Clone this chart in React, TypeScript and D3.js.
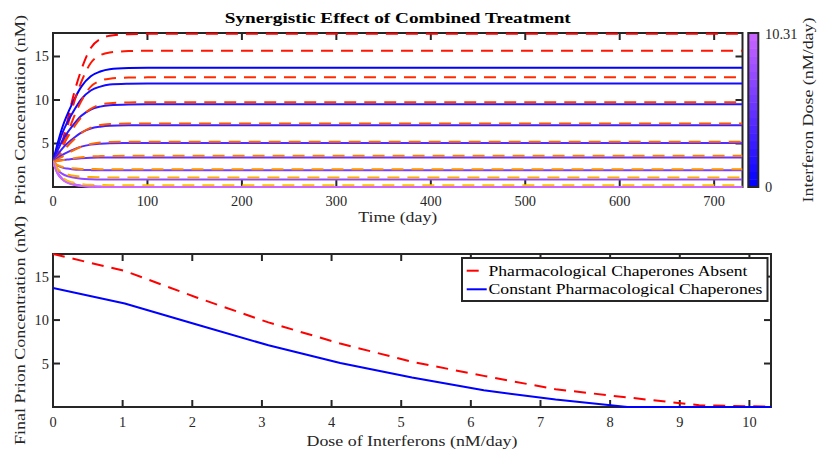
import React from "react";
import * as d3 from "d3";

// ---------------- data ----------------
const timeDays = [0, 5, 10, 15, 20, 30, 40, 50, 60, 80, 100, 730];
const doses = [0, 1.031, 2.062, 3.093, 4.124, 5.155, 6.186, 7.217, 8.248, 9.279, 10.31];
const doseMax = 10.31;

const absentSeries = [
  [2.9, 3.78, 5.25, 7.46, 9.81, 13.48, 15.98, 17.01, 17.38, 17.57, 17.6, 17.6],
  [2.9, 3.67, 4.94, 6.85, 8.89, 12.08, 14.25, 15.14, 15.46, 15.62, 15.65, 15.65],
  [2.9, 3.48, 4.45, 5.91, 7.46, 9.88, 11.53, 12.21, 12.45, 12.58, 12.6, 12.6],
  [2.9, 3.72, 4.68, 5.63, 6.52, 8.02, 8.98, 9.46, 9.63, 9.72, 9.73, 9.73],
  [2.9, 3.43, 4.04, 4.66, 5.23, 6.2, 6.82, 7.12, 7.23, 7.29, 7.3, 7.3],
  [2.9, 3.18, 3.5, 3.82, 4.12, 4.63, 4.95, 5.11, 5.17, 5.2, 5.2, 5.2],
  [2.9, 2.98, 3.08, 3.17, 3.26, 3.41, 3.51, 3.55, 3.57, 3.58, 3.58, 3.58],
  [2.9, 2.51, 2.32, 2.21, 2.15, 2.08, 2.06, 2.05, 2.04, 2.04, 2.04, 2.04],
  [2.9, 2.09, 1.68, 1.46, 1.33, 1.19, 1.14, 1.12, 1.1, 1.1, 1.1, 1.1],
  [2.9, 1.69, 1.06, 0.74, 0.55, 0.34, 0.25, 0.23, 0.2, 0.2, 0.2, 0.2],
  [2.9, 1.61, 0.95, 0.6, 0.4, 0.17, 0.09, 0.06, 0.03, 0.03, 0.03, 0.03],
];

const constantSeries = [
  [2.9, 5.06, 6.9, 8.3, 9.49, 11.54, 12.73, 13.27, 13.54, 13.67, 13.7, 13.7],
  [2.9, 4.7, 6.23, 7.4, 8.39, 10.1, 11.09, 11.54, 11.77, 11.87, 11.9, 11.9],
  [2.9, 4.22, 5.34, 6.2, 6.93, 8.18, 8.91, 9.24, 9.4, 9.48, 9.5, 9.5],
  [2.9, 3.74, 4.45, 5.0, 5.46, 6.26, 6.72, 6.93, 7.04, 7.09, 7.1, 7.1],
  [2.9, 3.33, 3.7, 3.99, 4.22, 4.64, 4.87, 4.98, 5.04, 5.06, 5.07, 5.07],
  [2.9, 3.0, 3.09, 3.15, 3.21, 3.3, 3.36, 3.38, 3.39, 3.4, 3.4, 3.4],
  [2.9, 2.46, 2.23, 2.12, 2.05, 1.97, 1.94, 1.93, 1.92, 1.92, 1.92, 1.92],
  [2.9, 1.98, 1.51, 1.26, 1.12, 0.95, 0.89, 0.87, 0.85, 0.85, 0.85, 0.85],
  [2.9, 1.6, 0.93, 0.58, 0.38, 0.15, 0.06, 0.03, 0, 0, 0, 0],
  [2.9, 1.55, 0.88, 0.54, 0.35, 0.13, 0.05, 0.02, 0, 0, 0, 0],
  [2.9, 1.5, 0.85, 0.5, 0.32, 0.12, 0.05, 0.02, 0, 0, 0, 0],
];

const finalAbsent = [17.6, 15.65, 12.6, 9.73, 7.3, 5.2, 3.58, 2.04, 1.1, 0.2, 0.03];
const finalConstant = [13.7, 11.9, 9.5, 7.1, 5.07, 3.4, 1.92, 0.85, 0, 0, 0];

const timeTicks = [0, 100, 200, 300, 400, 500, 600, 700];
const concTicks = [5, 10, 15];
const doseTicks = [0, 1, 2, 3, 4, 5, 6, 7, 8, 9, 10];

const titleText = "Synergistic Effect of Combined Treatment";
const legendLabels = ["Pharmacological Chaperones Absent", "Constant Pharmacological Chaperones"];

// ---------------- styling ----------------
const FONT = "'Liberation Serif', 'DejaVu Serif', serif";
const AX = "#262626";
const DASH = "12,8";

const absentColor = (i: number) => {
  const t = i / (doses.length - 1);
  return d3.rgb(255, Math.round(210 * t), 0).toString();
};
const constantColor = (t: number) => d3.rgb(Math.round(204 * t), Math.round(102 * t), 255).toString();

export default function App() {
  // top panel
  const tL = 53, tR = 742.5, tT = 33, tB = 187;
  const xT = d3.scaleLinear().domain([0, 730]).range([tL, tR]);
  const yT = d3.scaleLinear().domain([0, 17.7]).range([tB, tT]);
  // bottom panel
  const bL = 53, bR = 771, bT = 254, bB = 407;
  const xB = d3.scaleLinear().domain([0, doseMax]).range([bL, bR]);
  const yB = d3.scaleLinear().domain([0, 17.6]).range([bB, bT]);

  const lineT = d3
    .line<number>()
    .x((_, i) => xT(timeDays[i]))
    .y((d) => yT(d))
    .curve(d3.curveMonotoneX);
  const lineB = d3
    .line<number>()
    .x((_, i) => xB(doses[i]))
    .y((d) => yB(d));

  // colorbar
  const cbL = 748.3, cbR = 758.3;
  const cbY = d3.scaleLinear().domain([0, doseMax]).range([tB, tT]);
  const nBands = 20;
  const bands = d3.range(nBands);

  const tick = 7;

  return (
    <svg width={817} height={449} style={{ display: "block", position: "absolute", left: 0, top: 0 }} fontFamily={FONT}>
      <rect width={817} height={449} fill="#fff" />
      <defs>
        <clipPath id="clipTop">
          <rect x={tL} y={tT - 2} width={tR - tL} height={tB - tT + 4} />
        </clipPath>
        <clipPath id="clipBot">
          <rect x={bL} y={bT - 2} width={bR - bL} height={bB - bT + 4} />
        </clipPath>
      </defs>

      {/* ---------- top panel ---------- */}
      <text x={(tL + tR) / 2} y={23} textAnchor="middle" fontSize={15} fontWeight="bold" fill="#000"
        textLength={346} lengthAdjust="spacingAndGlyphs">{titleText}</text>

      <rect x={tL} y={tT} width={tR - tL} height={tB - tT} fill="#fff" stroke={AX} strokeWidth={2} />
      {timeTicks.map((v) => (
        <g key={"tt" + v}>
          <line x1={xT(v)} x2={xT(v)} y1={tB} y2={tB - tick} stroke={AX} strokeWidth={2} />
          <line x1={xT(v)} x2={xT(v)} y1={tT} y2={tT + tick} stroke={AX} strokeWidth={2} />
          <text x={xT(v)} y={206} textAnchor="middle" fontSize={14.4} fill="#262626">{v}</text>
        </g>
      ))}
      {concTicks.map((v) => (
        <g key={"ct" + v}>
          <line x1={tL} x2={tL + tick} y1={yT(v)} y2={yT(v)} stroke={AX} strokeWidth={2} />
          <line x1={tR} x2={tR - tick} y1={yT(v)} y2={yT(v)} stroke={AX} strokeWidth={2} />
          <text x={49} y={yT(v) + 5} textAnchor="end" fontSize={14.4} fill="#262626">{v}</text>
        </g>
      ))}

      <g clipPath="url(#clipTop)" fill="none">
        {doses.map((d, i) => (
          <g key={"curve" + i}>
            <path d={lineT(absentSeries[i]) || ""} stroke={absentColor(i)} strokeWidth={2} strokeDasharray={DASH} />
            <path d={lineT(constantSeries[i]) || ""} stroke={constantColor(d / doseMax)} strokeWidth={2} />
          </g>
        ))}
      </g>

      <text x={(tL + tR) / 2} y={222} textAnchor="middle" fontSize={14.4} fill="#262626"
        textLength={79} lengthAdjust="spacingAndGlyphs">Time (day)</text>
      <text transform={`translate(25,${(tT + tB) / 2}) rotate(-90)`} textAnchor="middle" fontSize={14.4} fill="#262626"
        textLength={190} lengthAdjust="spacingAndGlyphs">Prion Concentration (nM)</text>

      {/* colorbar */}
      {bands.map((k) => {
        const v0 = (k / nBands) * doseMax;
        const v1 = ((k + 1) / nBands) * doseMax;
        return (
          <rect key={"cb" + k} x={cbL} width={cbR - cbL} y={cbY(v1)} height={cbY(v0) - cbY(v1) + 0.5}
            fill={constantColor((k + 0.5) / nBands)} />
        );
      })}
      <rect x={cbL} y={tT} width={cbR - cbL} height={tB - tT} fill="none" stroke={AX} strokeWidth={2} />
      <text x={765} y={39} fontSize={14.4} fill="#262626">{doseMax.toFixed(2)}</text>
      <text x={765} y={191.5} fontSize={14.4} fill="#262626">0</text>
      <text transform={`translate(812.5,${(tT + tB) / 2}) rotate(-90)`} textAnchor="middle" fontSize={14.4} fill="#262626"
        textLength={185} lengthAdjust="spacingAndGlyphs">Interferon Dose (nM/day)</text>

      {/* ---------- bottom panel ---------- */}
      <rect x={bL} y={bT} width={bR - bL} height={bB - bT} fill="#fff" stroke={AX} strokeWidth={2} />
      {doseTicks.map((v) => (
        <g key={"dt" + v}>
          <line x1={xB(v)} x2={xB(v)} y1={bB} y2={bB - tick} stroke={AX} strokeWidth={2} />
          <line x1={xB(v)} x2={xB(v)} y1={bT} y2={bT + tick} stroke={AX} strokeWidth={2} />
          <text x={xB(v)} y={427} textAnchor="middle" fontSize={14.4} fill="#262626">{v}</text>
        </g>
      ))}
      {concTicks.map((v) => (
        <g key={"bt" + v}>
          <line x1={bL} x2={bL + tick} y1={yB(v)} y2={yB(v)} stroke={AX} strokeWidth={2} />
          <line x1={bR} x2={bR - tick} y1={yB(v)} y2={yB(v)} stroke={AX} strokeWidth={2} />
          <text x={49} y={yB(v) + 5} textAnchor="end" fontSize={14.4} fill="#262626">{v}</text>
        </g>
      ))}
      <g clipPath="url(#clipBot)" fill="none">
        <path d={lineB(finalAbsent) || ""} stroke="#ff0000" strokeWidth={2} strokeDasharray={DASH} />
        <path d={lineB(finalConstant) || ""} stroke="#0000ff" strokeWidth={2} />
      </g>
      <text x={(bL + bR) / 2} y={446} textAnchor="middle" fontSize={14.4} fill="#262626"
        textLength={211} lengthAdjust="spacingAndGlyphs">Dose of Interferons (nM/day)</text>
      <text transform={`translate(25,${(bT + bB) / 2}) rotate(-90)`} textAnchor="middle" fontSize={14.4} fill="#262626"
        textLength={229} lengthAdjust="spacingAndGlyphs">Final Prion Concentration (nM)</text>

      {/* legend */}
      <rect x={462} y={258} width={305.5} height={43} fill="#fff" stroke={AX} strokeWidth={2} />
      <line x1={466.7} x2={486.7} y1={270.7} y2={270.7} stroke="#ff0000" strokeWidth={2} strokeDasharray={DASH} />
      <line x1={466.7} x2={486.7} y1={289.3} y2={289.3} stroke="#0000ff" strokeWidth={2} />
      <text x={488.5} y={275.5} fontSize={14.4} fill="#000" textLength={259} lengthAdjust="spacingAndGlyphs">{legendLabels[0]}</text>
      <text x={488.5} y={294} fontSize={14.4} fill="#000" textLength={274} lengthAdjust="spacingAndGlyphs">{legendLabels[1]}</text>
    </svg>
  );
}
